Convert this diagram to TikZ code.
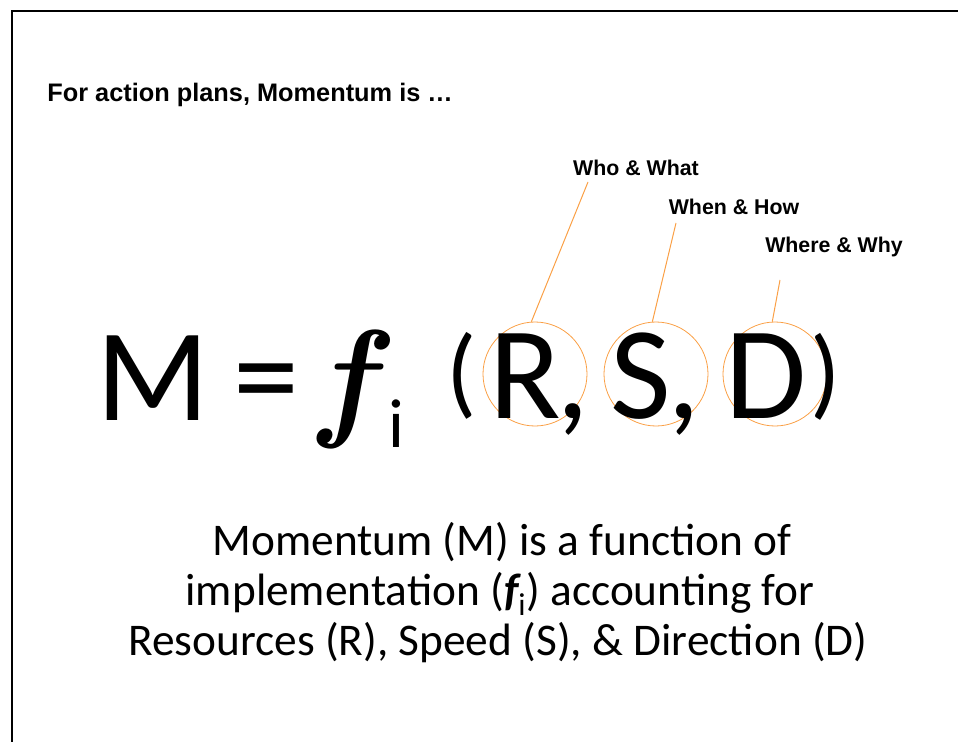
\documentclass[tikz,border=0pt]{standalone}
\usepackage{fontspec}
\newfontfamily\handfont{Carlito}
\newfontfamily\labelfont{Liberation Sans}
\definecolor{ringorange}{RGB}{250,160,70}

\begin{document}
\begin{tikzpicture}[x=0.75pt, y=-0.75pt, line width=0.6pt,
  hand/.style={font=\handfont\fontsize{99}{99}\selectfont, inner sep=0pt, anchor=base},
  body/.style={font=\handfont\fontsize{34}{34}\selectfont, inner sep=0pt, anchor=base},
  tag/.style={font=\labelfont\bfseries\fontsize{16}{16}\selectfont, inner sep=0pt},
  ring/.style={draw=ringorange, circle, minimum size=78pt, inner sep=0pt},
  leader/.style={draw=ringorange, line width=0.75pt}]
\useasboundingbox (0,0) rectangle (958,742);
% --- Slide frame and title ---
\draw[line width=1.5pt] (12,742) -- (12,11) -- (958,11);
\node[font=\labelfont\bfseries\fontsize{19}{19}\selectfont, inner sep=0pt, anchor=base west] (title) at (47,102) {For action plans, Momentum is …};
% --- Circles round R, S and D ---
\node[ring] (ringR) at (535,374) {};
\node[ring] (ringS) at (656,374) {};
\node[ring] (ringD) at (775,374) {};
% --- Formula ---
\node[hand] (M) at (153,420) {M};
\node[hand] (eq) at (266,420) {=};
\node[hand, font=\rmfamily\bfseries\itshape\fontsize{99}{99}\selectfont] (f) at (346,422) {f};
\node[hand, font=\handfont\fontsize{52}{52}\selectfont] (sub) at (396,447) {i};
\node[hand, anchor=center, font=\handfont\fontsize{75}{75}\selectfont] (lpar) at (462,376) {(};
\node[hand] (R) at (525,418) {R};
\node[hand] (c1) at (573,418) {,};
\node[hand] (S) at (641,418) {S};
\node[hand] (c2) at (684,418) {,};
\node[hand] (D) at (766,418) {D};
\node[hand, anchor=center, font=\handfont\fontsize{75}{75}\selectfont] (rpar) at (826,377) {)};
% --- Labels and leader lines ---
\node[tag] (who) at (636,168) {Who \& What};
\node[tag] (when) at (734,207) {When \& How};
\node[tag] (where) at (834,247) {Where \& Why};
\coordinate (whoend) at (588,182);
\coordinate (whenend) at (676,223);
\coordinate (whereend) at (780,280);
\draw[leader] (whoend) -- (ringR.94);
\draw[leader] (whenend) -- (ringS.94);
\draw[leader] (whereend) -- (ringD.93);
% --- Explanation ---
\node[body] (line1) at (502,555) {Momentum (M) is a function of};
\node[body] (line2) at (500,605) {implementation ({\bfseries\itshape f}\textsubscript{i}) accounting for};
\node[body] (line3) at (498,655) {Resources (R), Speed (S), \& Direction (D)};
\end{tikzpicture}
\end{document}
